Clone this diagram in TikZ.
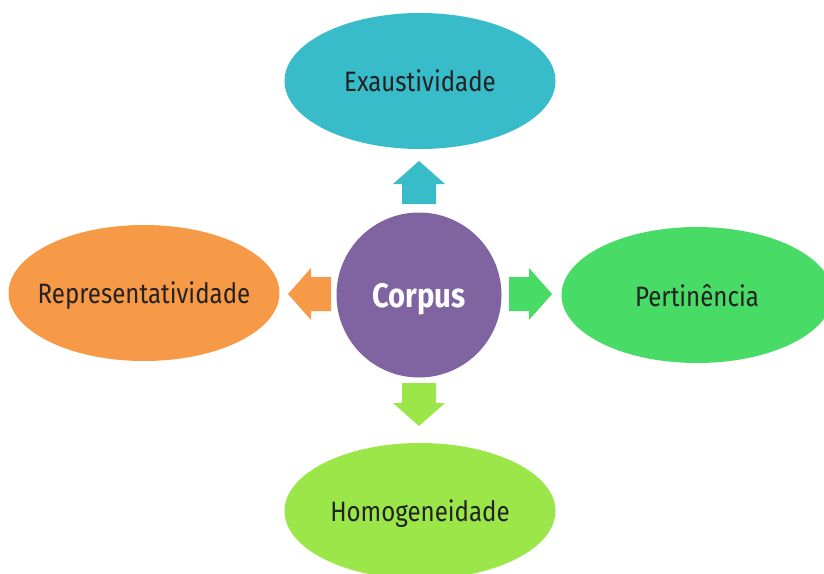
\documentclass[tikz,border=0pt]{standalone}
\usepackage{fontspec}
\setmainfont{Fira Sans}[FakeStretch=0.86]
\usetikzlibrary{shapes.geometric}
\definecolor{tealblue}{HTML}{38BCCA}
\definecolor{softorange}{HTML}{F79A48}
\definecolor{brightgreen}{HTML}{48DB65}
\definecolor{limegreen}{HTML}{9BE648}
\definecolor{corpuspurple}{HTML}{8064A1}
\definecolor{textgray}{HTML}{222222}

\begin{document}
\begin{tikzpicture}[x=1pt,y=-1pt,
    bubble/.style={ellipse,minimum width=271pt,minimum height=136pt,inner sep=0pt,
        text depth=0pt,text=textgray,font=\fontsize{28}{32}\selectfont}]
    % Definitions
    \useasboundingbox (0,0) rectangle (824,573);
    \coordinate (centre) at (419,295);
    % Corpus
    \node[circle,fill=corpuspurple,minimum size=165pt,inner sep=0pt,text depth=0pt,text=white,
        font=\fontsize{34}{38}\selectfont\bfseries] (corpus) at (centre) {\makebox[0pt]{Corpus}};
    % Ellipses
    \node[bubble,fill=tealblue] (exaustividade) at (420,81) {\makebox[0pt]{Exaustividade}};
    \node[bubble,fill=softorange] (representatividade) at (144,293) {\makebox[0pt]{Representatividade}};
    \node[bubble,fill=brightgreen] (pertinencia) at (697,295) {\makebox[0pt]{Pertinência}};
    \node[bubble,fill=limegreen] (homogeneidade) at (420,511) {\makebox[0pt]{Homogeneidade}};
    % Block arrows
    \fill[tealblue] (402,204) -- ++(0,-20) -- ++(-9,0) -- ++(26,-23) -- ++(26,23) -- ++(-9,0) -- ++(0,20) -- cycle;
    \fill[limegreen] (402,383) -- ++(0,20) -- ++(-9,0) -- ++(26,23) -- ++(26,-23) -- ++(-9,0) -- ++(0,-20) -- cycle;
    \fill[softorange] (331,277) -- ++(-20,0) -- ++(0,-9) -- ++(-23,26) -- ++(23,26) -- ++(0,-9) -- ++(20,0) -- cycle;
    \fill[brightgreen] (509,277) -- ++(20,0) -- ++(0,-9) -- ++(23,26) -- ++(-23,26) -- ++(0,-9) -- ++(-20,0) -- cycle;
\end{tikzpicture}
\end{document}
